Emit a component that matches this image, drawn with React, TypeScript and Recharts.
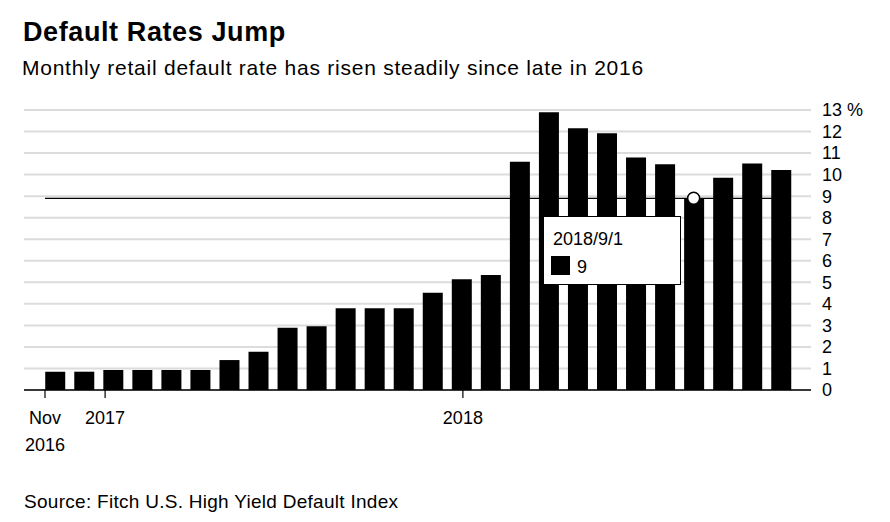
import React from "react";
import {
  BarChart,
  Bar,
  XAxis,
  YAxis,
  CartesianGrid,
  Tooltip,
  ReferenceLine,
  ReferenceDot,
} from "recharts";

const dates = [
  "2016/11/1", "2016/12/1",
  "2017/1/1", "2017/2/1", "2017/3/1", "2017/4/1", "2017/5/1", "2017/6/1",
  "2017/7/1", "2017/8/1", "2017/9/1", "2017/10/1", "2017/11/1", "2017/12/1",
  "2018/1/1", "2018/2/1", "2018/3/1", "2018/4/1", "2018/5/1", "2018/6/1",
  "2018/7/1", "2018/8/1", "2018/9/1", "2018/10/1", "2018/11/1", "2018/12/1",
];

const rates = [
  0.85, 0.85,
  0.93, 0.93, 0.93, 0.93, 1.39, 1.78, 2.89, 2.96, 3.8, 3.8, 3.8, 4.52,
  5.14, 5.34, 10.6, 12.89, 12.15, 11.92, 10.8, 10.48, 8.9, 9.85, 10.52, 10.21,
];

const xTickPositions = [0, 2.07, 14.39];
const xTickLabels = [["Nov", "2016"], ["2017"], ["2018"]];
const yTicks = [0, 1, 2, 3, 4, 5, 6, 7, 8, 9, 10, 11, 12, 13];

const hoverIndex = 22;
const BAR_HALF = 0.336;

const data = dates.map((d, i) => ({ date: d, x: i + BAR_HALF, value: rates[i] }));

const FONT = '"Liberation Sans", Arial, Helvetica, sans-serif';

const XTick = (props: any) => {
  const { x, y, payload } = props;
  const idx = xTickPositions.indexOf(payload.value);
  const lines = idx >= 0 ? xTickLabels[idx] : [];
  return (
    <text x={x} y={y} textAnchor="middle" fontFamily={FONT} fontSize={18} fill="#000">
      {lines.map((l, i) => (
        <tspan key={i} x={x} dy={i === 0 ? 24 : 27}>
          {l}
        </tspan>
      ))}
    </text>
  );
};

const YTick = (props: any) => {
  const { x, y, payload } = props;
  return (
    <text x={x} y={y} dy="0.355em" textAnchor="start" fontFamily={FONT} fontSize={18} fill="#000">
      {payload.value === 13 ? "13 %" : String(payload.value)}
    </text>
  );
};

const TipContent = (props: any) => {
  const { payload } = props;
  if (!payload || !payload.length) return null;
  const p = payload[0].payload;
  return (
    <div
      style={{
        width: 138,
        height: 69,
        boxSizing: "border-box",
        border: "1px solid #000",
        background: "#fff",
        fontFamily: FONT,
        fontSize: 18,
        color: "#000",
        position: "relative",
      }}
    >
      <div style={{ position: "absolute", left: 9, top: 13, lineHeight: "18px" }}>{p.date}</div>
      <div
        style={{
          position: "absolute",
          left: 7,
          top: 39,
          width: 19,
          height: 19,
          background: "#000",
        }}
      />
      <div style={{ position: "absolute", left: 33, top: 41, lineHeight: "18px" }}>
        {String(Math.round(p.value))}
      </div>
    </div>
  );
};

export default function App() {
  return (
    <div
      style={{
        position: "absolute",
        left: 0,
        top: 0,
        width: 890,
        height: 522,
        background: "#fff",
        fontFamily: FONT,
        overflow: "hidden",
      }}
    >
      <div
        style={{
          position: "absolute",
          left: 23,
          top: 19,
          fontSize: 27,
          lineHeight: "27px",
          fontWeight: 700,
          letterSpacing: 0.6,
          whiteSpace: "nowrap",
        }}
      >
        Default Rates Jump
      </div>
      <div
        style={{
          position: "absolute",
          left: 22,
          top: 57,
          fontSize: 21,
          lineHeight: "21px",
          letterSpacing: 0.75,
          whiteSpace: "nowrap",
        }}
      >
        Monthly retail default rate has risen steadily since late in 2016
      </div>
      <div
        style={{
          position: "absolute",
          left: 24,
          top: 492,
          fontSize: 19,
          lineHeight: "19px",
          letterSpacing: 0.28,
          whiteSpace: "nowrap",
        }}
      >
        Source: Fitch U.S. High Yield Default Index
      </div>
      <div style={{ position: "absolute", left: 0, top: 0 }}>
        <BarChart
          width={890}
          height={522}
          data={data}
          margin={{ top: 110, right: 0, left: 24, bottom: 72 }}
        >
          <CartesianGrid horizontal vertical={false} stroke="#dcdcdc" strokeWidth={2} />
          <XAxis
            type="number"
            dataKey="x"
            domain={[-0.723, 26.377]}
            ticks={xTickPositions}
            interval={0}
            height={60}
            tick={<XTick />}
            tickSize={8}
            tickLine={{ stroke: "#000", strokeWidth: 1.2 }}
            axisLine={{ stroke: "#000", strokeWidth: 1.5 }}
            allowDataOverflow
          />
          <YAxis
            orientation="right"
            width={79}
            domain={[0, 13]}
            ticks={yTicks}
            interval={0}
            tickLine={false}
            axisLine={false}
            tickSize={0}
            tickMargin={11}
            tick={<YTick />}
          />
          <Bar
            dataKey="value"
            fill="#000"
            barSize={20}
            isAnimationActive={false}
            activeBar={false}
          />
          <ReferenceLine
            segment={[
              { x: 0, y: rates[hoverIndex] },
              { x: rates.length - 1 + 2 * BAR_HALF, y: rates[hoverIndex] },
            ]}
            stroke="#000"
            strokeWidth={1.3}
          />
          <ReferenceDot
            x={hoverIndex + BAR_HALF}
            y={rates[hoverIndex]}
            r={6}
            fill="#fff"
            stroke="#000"
            strokeWidth={1.5}
          />
          <Tooltip
            defaultIndex={hoverIndex}
            active
            cursor={false}
            position={{ x: 543, y: 216 }}
            content={<TipContent />}
            isAnimationActive={false}
            wrapperStyle={{ transition: "none", outline: "none" }}
          />
        </BarChart>
      </div>
    </div>
  );
}
